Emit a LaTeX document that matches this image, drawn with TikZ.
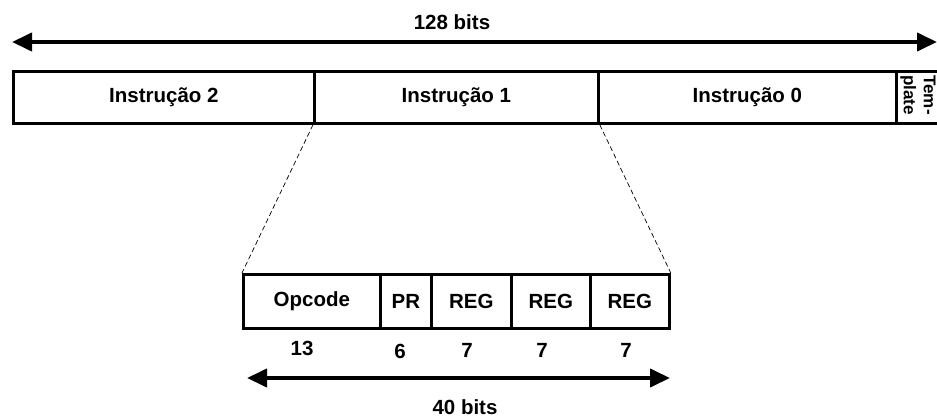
\documentclass[tikz,border=0pt]{standalone}
\usepackage{fontspec}
\setmainfont{Liberation Sans}
\usetikzlibrary{arrows.meta}
\begin{document}
\begin{tikzpicture}[x=1pt,y=-1pt,
  cell/.style={draw,line width=2.8pt,minimum height=52pt,inner sep=0pt,anchor=north west,font=\bfseries\fontsize{20.5}{22}\selectfont},
  lbl/.style={font=\bfseries\fontsize{20.5}{22}\selectfont,inner sep=0pt},
  dim/.style={line width=4pt,{Triangle[length=20pt,width=18pt]}-{Triangle[length=20pt,width=18pt]}},
  zoomline/.style={line width=0.7pt,dash pattern=on 5pt off 3pt}]
\useasboundingbox (0,0) rectangle (937,417);
% top row
\node[cell,minimum width=301pt] (i2) at (12,70) {Instrução 2};
\node[cell,minimum width=284pt] (i1) at (313,70) {Instrução 1};
\node[cell,minimum width=298pt] (i0) at (597,70) {Instrução 0};
\node[cell,minimum width=50pt] (tp) at (895,70) {};
\node[font=\bfseries\fontsize{17}{20}\selectfont,rotate=-90,align=center,inner sep=0pt] (tpl) at (918,95) {Tem-\\plate};
% 128 bits
\coordinate (a1) at (12,42);
\coordinate (a2) at (937,42);
\draw[dim] (a1) -- (a2);
\node[lbl] (t128) at (452,22) {128 bits};
% bottom row
\node[cell,minimum width=137pt,minimum height=54pt] (op) at (242,273) {Opcode};
\node[cell,minimum width=51pt,minimum height=54pt] (pr) at (379,273) {PR};
\node[cell,minimum width=80pt,minimum height=54pt] (r1) at (430,273) {REG};
\node[cell,minimum width=79pt,minimum height=54pt] (r2) at (510,273) {REG};
\node[cell,minimum width=79pt,minimum height=54pt] (r3) at (589,273) {REG};
% dashed lines
\draw[zoomline] (i1.south west) -- (op.north west);
\draw[zoomline] (i1.south east) -- (r3.north east);
% bit counts
\node[lbl] (n1) at (302,348) {13};
\node[lbl] (n2) at (400,351) {6};
\node[lbl] (n3) at (467,350) {7};
\node[lbl] (n4) at (542,350) {7};
\node[lbl] (n5) at (626,350) {7};
% 40 bits
\coordinate (b1) at (247,378);
\coordinate (b2) at (670,378);
\draw[dim] (b1) -- (b2);
\node[lbl] (t40) at (465,407) {40 bits};
\end{tikzpicture}
\end{document}
